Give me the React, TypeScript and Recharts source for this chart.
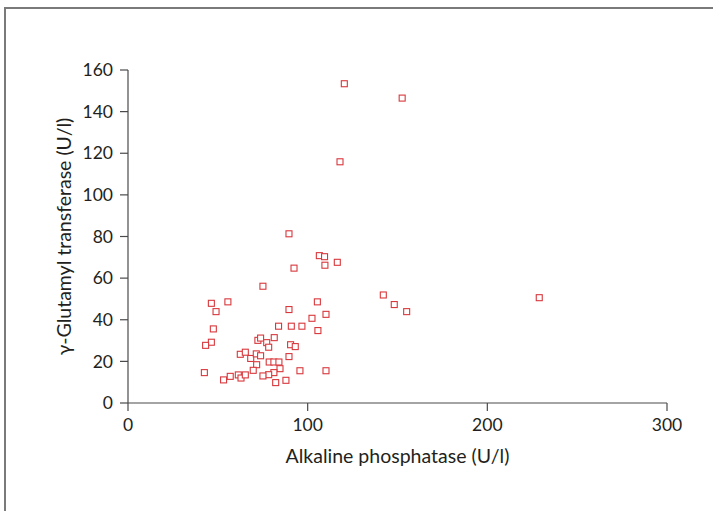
import React from "react";
import { ScatterChart, Scatter, XAxis, YAxis, Label } from "recharts";

const alkalinePhosphatase = [
  92.4, 109.6, 116.5, 75.1, 46.4, 55.6, 49, 105.4, 89.6, 110.2,
  102.4, 47.5, 83.8, 90.9, 96.8, 105.7, 46.4, 43.2, 72.3, 73.8,
  77.2, 78.3, 81.4, 90.5, 93.1, 62.5, 65.3, 68.3, 71.4, 73.8,
  71.6, 69.7, 78.6, 81.2, 84, 84.6, 81.2, 78.3, 75.1, 82.2,
  87.9, 89.6, 95.7, 110.2, 42.5, 53.2, 56.9, 61.4, 62.9, 65.3,
  120.4, 152.6, 118, 89.6, 106.5, 109.4, 142.1, 148.2, 155.1, 228.9,
];
const gammaGT = [
  64.8, 66.2, 67.6, 56.1, 47.9, 48.6, 43.9, 48.6, 44.9, 42.6,
  40.7, 35.6, 36.9, 36.9, 36.9, 34.8, 29.2, 27.7, 30.1, 31.2,
  29, 26.8, 31.4, 28, 27.1, 23.4, 24.4, 21.4, 23.6, 22.7,
  18.4, 15.7, 19.7, 19.7, 19.7, 16.5, 14.6, 13.6, 13, 9.8,
  10.9, 22.3, 15.5, 15.5, 14.6, 11.1, 12.8, 13.5, 12, 13.5,
  153.4, 146.5, 115.9, 81.3, 70.8, 70.3, 51.9, 47.3, 43.9, 50.6,
];
const xTicks = [0, 100, 200, 300];
const yTicks = [0, 20, 40, 60, 80, 100, 120, 140, 160];

const points = alkalinePhosphatase.map((x, i) => ({ x, y: gammaGT[i] }));

const FONT = "Lato, 'Open Sans', sans-serif";
const TEXT = "#231f20";
const AXIS = "#4a4a4a";
const RED = "#d8383c";

const SquareShape = (props: any) => {
  const { cx, cy } = props;
  if (cx == null || cy == null) return null;
  return (
    <rect
      x={cx - 3}
      y={cy - 3}
      width={6}
      height={6}
      fill="#fff"
      stroke={RED}
      strokeWidth={1.1}
    />
  );
};

export default function App() {
  return (
    <div style={{ position: "absolute", left: 0, top: 0, width: 713, height: 511, background: "#fff", overflow: "hidden" }}>
      <div
        style={{
          position: "absolute",
          left: 4,
          top: 7,
          width: 720,
          height: 520,
          borderTop: "2px solid #7a7a7a",
          borderLeft: "2px solid #7a7a7a",
        }}
      />
      <div style={{ position: "absolute", left: 0, top: 0 }}>
        <ScatterChart width={713} height={511} margin={{ top: 70, right: 46, bottom: 48, left: 68 }}>
          <XAxis
            type="number"
            dataKey="x"
            domain={[0, 300]}
            ticks={xTicks}
            height={60}
            tickSize={8}
            tickMargin={8}
            axisLine={{ stroke: AXIS, strokeWidth: 1.2 }}
            tickLine={{ stroke: AXIS, strokeWidth: 1.2 }}
            tick={{ fill: TEXT, fontSize: 17.5, fontFamily: FONT }}
            allowDataOverflow
          >
            <Label
              value="Alkaline phosphatase (U/l)"
              position="insideBottom"
              offset={0}
              style={{ fill: TEXT, fontSize: 19.5, fontFamily: FONT }}
            />
          </XAxis>
          <YAxis
            type="number"
            dataKey="y"
            domain={[0, 160]}
            ticks={yTicks}
            width={60}
            tickSize={8}
            tickMargin={7}
            axisLine={{ stroke: AXIS, strokeWidth: 1.2 }}
            tickLine={{ stroke: AXIS, strokeWidth: 1.2 }}
            tick={{ fill: TEXT, fontSize: 17.5, fontFamily: FONT }}
            allowDataOverflow
          >
            <Label
              value="γ-Glutamyl transferase (U/l)"
              angle={-90}
              position="insideLeft"
              offset={-4}
              style={{ fill: TEXT, fontSize: 19.5, fontFamily: FONT, textAnchor: "middle" }}
            />
          </YAxis>
          <Scatter data={points} shape={<SquareShape />} isAnimationActive={false} />
        </ScatterChart>
      </div>
    </div>
  );
}
